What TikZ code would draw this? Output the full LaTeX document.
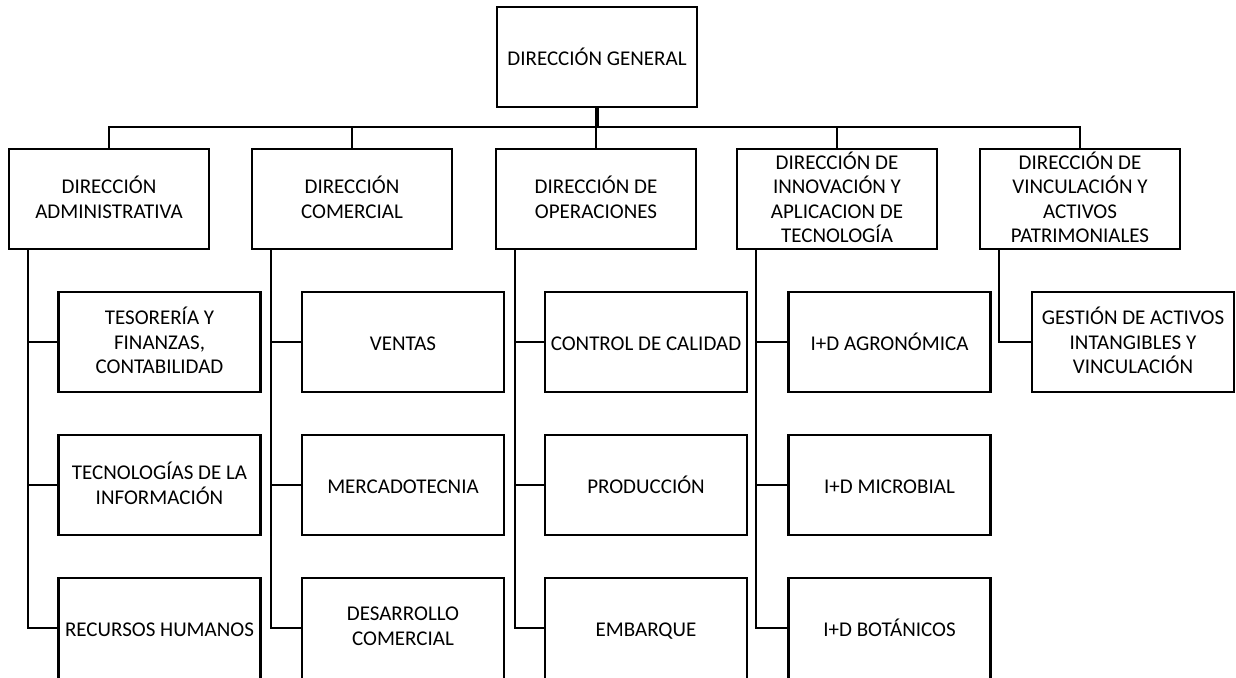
\documentclass[tikz,border=0pt]{standalone}
\usepackage{fontspec}
\setmainfont{Carlito}
\newcommand\capstrut{\rule[-0.16em]{0pt}{1.14em}}
\begin{document}
\begin{tikzpicture}[x=1pt,y=-1pt,
  txt/.style={align=center, font=\fontsize{21}{24.5}\selectfont,
    execute at begin node=\capstrut, execute at end node=\capstrut},
  box/.style={draw, line width=2.4pt, minimum width=200pt, minimum height=100pt,
    inner sep=1pt, txt},
  sub/.style={box, minimum width=202pt},
  subl/.style={sub, minimum height=104pt},
  lbl/.style={txt, inner sep=0pt},
  conn/.style={line width=2.4pt},
  stem/.style={line width=4.5pt}]
\useasboundingbox (0,0) rectangle (1236,677);
\clip (0,0) rectangle (1236,677);
\fill[white] (0,0) rectangle (1236,677);

% top
\node[box] (gen) at (597,57) {DIRECCIÓN GENERAL};

% level 2
\node[box] (adm) at (109,199) {DIRECCIÓN\\ADMINISTRATIVA};
\node[box] (com) at (352,199) {DIRECCIÓN\\COMERCIAL};
\node[box] (ope) at (596,199) {DIRECCIÓN DE\\OPERACIONES};
\node[box] (inn) at (837,199) {DIRECCIÓN DE\\INNOVACIÓN Y\\APLICACION DE\\TECNOLOGÍA};
\node[box] (vin) at (1080,199) {DIRECCIÓN DE\\VINCULACIÓN Y\\ACTIVOS\\PATRIMONIALES};

% level 3
\node[sub] (tes) at (159.5,342) {TESORERÍA Y\\FINANZAS,\\CONTABILIDAD};
\node[sub] (tec) at (159.5,485) {TECNOLOGÍAS DE LA\\INFORMACIÓN};
\node[subl] (rh) at (159.5,630) {};
\node[lbl] (rht) at (159.5,628) {RECURSOS HUMANOS};

\node[sub] (ven) at (403,342) {VENTAS};
\node[sub] (mer) at (403,485) {MERCADOTECNIA};
\node[subl] (des) at (403,630) {};
\node[lbl] (dest) at (403,628) {DESARROLLO\\COMERCIAL};

\node[sub] (cal) at (646,342) {CONTROL DE CALIDAD};
\node[sub] (pro) at (646,485) {PRODUCCIÓN};
\node[subl] (emb) at (646,630) {};
\node[lbl] (embt) at (646,628) {EMBARQUE};

\node[sub] (agr) at (889.5,342) {I+D AGRONÓMICA};
\node[sub] (mic) at (889.5,485) {I+D MICROBIAL};
\node[subl] (bot) at (889.5,630) {};
\node[lbl] (bott) at (889.5,628) {I+D BOTÁNICOS};

\node[sub] (ges) at (1133,342) {GESTIÓN DE ACTIVOS\\INTANGIBLES Y\\VINCULACIÓN};

% connectors level 1-2
\coordinate (bus) at (597,127);
\draw[stem] (gen.south) -- (bus);
\draw[conn] (adm.north) |- (bus) -| (vin.north);
\draw[conn] (com.north) -- (com.north |- bus);
\draw[conn] (ope.north) -- (ope.north |- bus);
\draw[conn] (inn.north) -- (inn.north |- bus);

% trunks
\coordinate (ta) at ([xshift=20pt]adm.south west);
\coordinate (tc) at ([xshift=20pt]com.south west);
\coordinate (to) at ([xshift=20pt]ope.south west);
\coordinate (ti) at ([xshift=20pt]inn.south west);
\coordinate (tv) at ([xshift=20pt]vin.south west);

\draw[conn] (ta) |- (tes.west);
\draw[conn] (ta) |- (tec.west);
\draw[conn] (ta) |- (rht.west -| rh.west);

\draw[conn] (tc) |- (ven.west);
\draw[conn] (tc) |- (mer.west);
\draw[conn] (tc) |- (dest.west -| des.west);

\draw[conn] (to) |- (cal.west);
\draw[conn] (to) |- (pro.west);
\draw[conn] (to) |- (embt.west -| emb.west);

\draw[conn] (ti) |- (agr.west);
\draw[conn] (ti) |- (mic.west);
\draw[conn] (ti) |- (bott.west -| bot.west);

\draw[conn] (tv) |- (ges.west);
\end{tikzpicture}
\end{document}
